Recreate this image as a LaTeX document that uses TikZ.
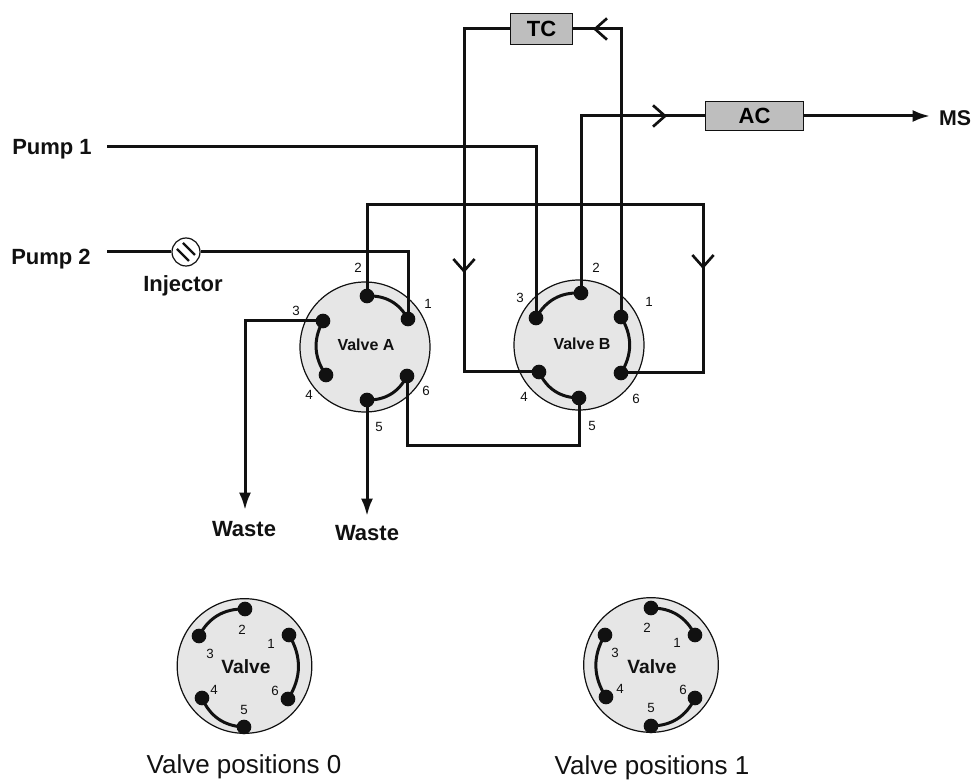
\documentclass[tikz,border=0pt]{standalone}
\usepackage{fontspec}
\setmainfont{Liberation Sans}
\usetikzlibrary{
  arrows.meta,
  calc
}
\definecolor{ink}{HTML}{111111}
\definecolor{disc}{HTML}{E6E6E6}
\definecolor{column}{HTML}{BEBEBE}
\tikzset{
  pipe/.style={
    line width=2.25pt,
    draw=ink
  },
  chevron/.style={
    pipe,
    -{Straight Barb[length=9pt,width=16pt,line width=2pt]}
  },
  outflow/.style={
    pipe,
    -{Latex[length=13pt,width=9pt]}
  },
  valvedisc/.style={
    circle,
    draw=ink,
    fill=disc,
    line width=0.9pt,
    inner sep=0pt
  },
  port/.style={
    circle,
    fill=ink,
    minimum size=11pt,
    inner sep=0pt
  },
  columnbox/.style={
    draw=ink,
    fill=column,
    line width=0.9pt,
    font=\bfseries\fontsize{16.5}{16.5}\selectfont,
    inner sep=0pt
  },
  pumplabel/.style={
    font=\bfseries\fontsize{16.5}{16.5}\selectfont,
    text=ink,
    inner sep=0pt
  },
  valvelabel/.style={
    font=\bfseries\fontsize{12}{12}\selectfont,
    text=ink,
    inner sep=0pt
  },
  smallvalve/.style={
    font=\bfseries\fontsize{14.4}{14.4}\selectfont,
    text=ink,
    inner sep=0pt
  },
  portnum/.style={
    font=\fontsize{10}{10}\selectfont,
    text=ink,
    inner sep=0pt
  },
  caption/.style={
    font=\fontsize{19.5}{19.5}\selectfont,
    text=ink,
    inner sep=0pt
  }
}
\begin{document}
\begin{tikzpicture}[x=0.75pt, y=-0.75pt]
  \useasboundingbox (0,0) rectangle (971,780);

  % valve bodies
  \node[valvedisc, minimum size=97.5pt] (valveA) at (365,347) {};
  \node[valvedisc, minimum size=97.5pt] (valveB) at (579,345) {};
  \node[valvedisc, minimum size=101pt] (valveL) at (244.5,666) {};
  \node[valvedisc, minimum size=101pt] (valveR) at (651,665) {};

  % ports
  \foreach \n/\x/\y in {a1/408/319,a2/367/296,a3/323/321,a4/326/375,a5/367/400,a6/407/376,
    b1/621/317,b2/581/293,b3/536/318,b4/539/372,b5/579/398,b6/621/373,
    l1/289/635,l2/245/609,l3/199/636,l4/202/698,l5/244/727,l6/288/699,
    r1/695/635,r2/651/608,r3/605/635,r4/606/697,r5/651/726,r6/695/698}{
    \node[port] (\n) at (\x,\y) {};
  }

  % links inside the valves
  \foreach \a/\b in {a2/a1,a4/a3,a6/a5,b3/b2,b5/b4,b1/b6,l3/l2,l5/l4,l1/l6,r2/r1,r4/r3,r6/r5}{
    \draw[pipe] (\a.center) to[bend left=32] (\b.center);
  }

  % columns and end labels
  \node[columnbox, minimum width=47pt, minimum height=23pt] (tc) at (541.5,29) {TC};
  \node[columnbox, minimum width=74pt, minimum height=22pt] (ac) at (754.5,116) {AC};
  \node[pumplabel] (pump1) at (52,149) {Pump 1};
  \node[pumplabel] (pump2) at (51,259) {Pump 2};
  \node[pumplabel, font=\bfseries\fontsize{16}{16}\selectfont] (ms) at (955,118) {MS};
  \node[pumplabel] (wasteA) at (244,529) {Waste};
  \node[pumplabel] (wasteB) at (367,533) {Waste};
  \node[pumplabel] (injlabel) at (183,286) {Injector};

  % injector
  \node[circle, draw=ink, fill=white, line width=0.9pt, minimum size=21pt, inner sep=0pt] (inj) at (186,252) {};
  \draw[line width=1.8pt, draw=ink] ($(inj.center)+(-9,-3)$) -- ($(inj.center)+(3,9)$);
  \draw[line width=1.8pt, draw=ink] ($(inj.center)+(-3,-9)$) -- ($(inj.center)+(9,3)$);

  % tubing
  \coordinate (p1start) at (107,147);
  \coordinate (p2start) at (107,252);
  \draw[pipe] (p1start) -| (b3.center);
  \draw[pipe] (p2start) -- (inj.west);
  \draw[pipe] (inj.east) -| (a1.center);

  \coordinate (loopTop) at (703,205);
  \coordinate (loopTip) at (703,269);
  \draw[chevron] (a2.center) |- (loopTop) -- (loopTip);
  \draw[pipe] (loopTop) |- (b6.center);

  \coordinate (tcTip) at (593,29);
  \coordinate (tcLeft) at (464,29);
  \coordinate (downTip) at (464,273);
  \draw[chevron] (b1.center) |- (tcTip);
  \draw[pipe] (b1.center |- tcTip) -- (tc.east);
  \draw[chevron] (tc.west) -| (downTip);
  \draw[pipe] (tcLeft) |- (b4.center);

  \coordinate (acTip) at (667,116);
  \coordinate (msTip) at (930,116);
  \draw[chevron] (b2.center) |- (acTip);
  \draw[pipe] (b2.center |- acTip) -- (ac.west);
  \draw[outflow] (ac.east) -- (msTip);

  \draw[pipe] (b5.center) -- (579,446) -| (a6.center);
  \coordinate (drainA) at (245,510);
  \coordinate (drainB) at (367,516);
  \draw[outflow] (a3.center) -| (drainA);
  \draw[outflow] (a5.center) -- (drainB);

  % text on the valves
  \node[valvelabel] (nameA) at (366,345) {Valve A};
  \node[valvelabel] (nameB) at (582,344) {Valve B};
  \node[smallvalve] (nameL) at (246,667) {Valve};
  \node[smallvalve] (nameR) at (652,667) {Valve};
  \foreach \t/\x/\y in {1/428/304,2/358/268,3/296/311,4/309/395,5/379/427,6/426/391,
    1/649/302,2/596/268,3/520/298,4/524/397,5/592/426,6/636/399,
    1/271/644,2/242/630,3/210/654,4/214/690,5/244/710,6/275/691,
    1/677/643,2/647/628,3/615/653,4/620/689,5/651/708,6/683/690}{
    \node[portnum] at (\x,\y) {\t};
  }
  \node[caption] (capL) at (244,767) {Valve positions 0};
  \node[caption] (capR) at (652,767.5) {Valve positions 1};
\end{tikzpicture}
\end{document}
